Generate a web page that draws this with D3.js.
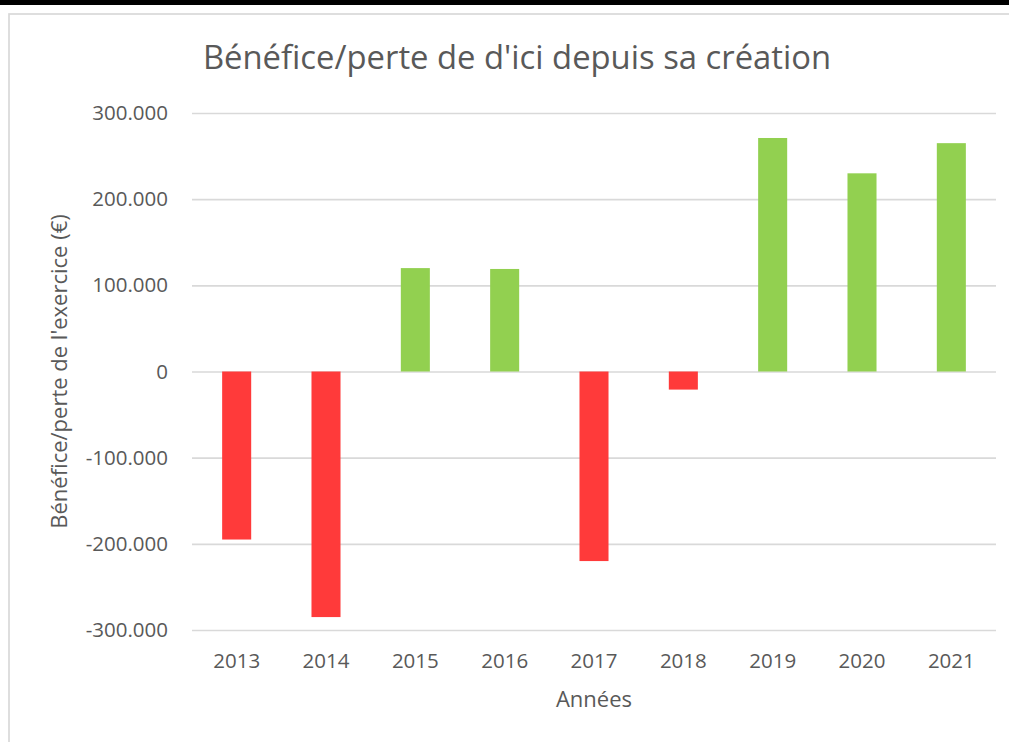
<!DOCTYPE html>
<html>
<head>
<meta charset="utf-8">
<script src="https://cdn.jsdelivr.net/npm/d3@7"></script>
<style>
  body { margin: 0; background: #fff; }
  svg { display: block; }
  svg text { font-family: "Open Sans", sans-serif; }
  .yAxis text, .xAxis text { fill: #595959; font-size: 20.5px; }
  .yAxis line { stroke: #d9d9d9; stroke-width: 1.7; }
</style>
</head>
<body>
<div id="chart"></div>
<script>
// Bénéfice/perte par année (€)
var years = ["2013", "2014", "2015", "2016", "2017", "2018", "2019", "2020", "2021"];
var results = [-195000, -285000, 120000, 119000, -220000, -21000, 271000, 230000, 265000];
var yTicks = [-300000, -200000, -100000, 0, 100000, 200000, 300000];

var width = 1009;
var height = 742;

// plot area
var plotLeft = 192, plotRight = 996, plotTop = 113, plotBottom = 630;

var svg = d3
    .select("#chart")
    .append("svg")
    .attr("width", width)
    .attr("height", height);

// black rule at top of the page
svg.append("rect")
    .attr("x", 0).attr("y", 0)
    .attr("width", width).attr("height", 5)
    .attr("fill", "#000");

// chart frame (runs off the right and bottom edges)
svg.append("rect")
    .attr("x", 9).attr("y", 14)
    .attr("width", width + 20).attr("height", height + 20)
    .attr("fill", "none")
    .attr("stroke", "#d9d9d9")
    .attr("stroke-width", 1.7);

var fr = d3.formatLocale({
    decimal: ",",
    thousands: ".",
    grouping: [3],
    currency: ["", " €"],
    minus: "-"
});
var fmt = fr.format(",d");

var xScale = d3.scaleBand()
    .domain(years)
    .range([plotLeft, plotRight])
    .paddingInner(0.675)
    .paddingOuter(0.3375);

var yScale = d3.scaleLinear()
    .domain([-300000, 300000])
    .range([plotBottom, plotTop]);

// y axis + gridlines
var yAxis = d3.axisLeft(yScale)
    .tickValues(yTicks)
    .tickFormat(fmt)
    .tickSize(-(plotRight - plotLeft))
    .tickPadding(24);

svg.append("g")
    .attr("class", "yAxis")
    .attr("transform", "translate(" + plotLeft + ",0)")
    .call(yAxis)
    .call(function(g) { g.select(".domain").remove(); });

// x axis labels
var xAxis = d3.axisBottom(xScale)
    .tickSize(0)
    .tickPadding(23);

svg.append("g")
    .attr("class", "xAxis")
    .attr("transform", "translate(0," + plotBottom + ")")
    .call(xAxis)
    .call(function(g) { g.select(".domain").remove(); });

// bars
svg.selectAll("rect.bar")
    .data(results)
    .enter()
    .append("rect")
    .attr("class", "bar")
    .attr("x", function(d, i) { return xScale(years[i]); })
    .attr("width", xScale.bandwidth())
    .attr("y", function(d) { return yScale(Math.max(0, d)); })
    .attr("height", function(d) { return Math.abs(yScale(d) - yScale(0)); })
    .attr("fill", function(d) { return d < 0 ? "#ff3a3a" : "#92d050"; });

// title
svg.append("text")
    .attr("x", 517)
    .attr("y", 69)
    .attr("text-anchor", "middle")
    .attr("fill", "#595959")
    .attr("font-size", 32.8)
    .text("Bénéfice/perte de d'ici depuis sa création");

// axis titles
svg.append("text")
    .attr("x", 594)
    .attr("y", 707)
    .attr("text-anchor", "middle")
    .attr("fill", "#595959")
    .attr("font-size", 22)
    .text("Années");

svg.append("text")
    .attr("transform", "translate(67," + ((plotTop + plotBottom) / 2) + ")rotate(-90)")
    .attr("text-anchor", "middle")
    .attr("fill", "#595959")
    .attr("font-size", 22)
    .text("Bénéfice/perte de l'exercice (€)");
</script>
</body>
</html>
